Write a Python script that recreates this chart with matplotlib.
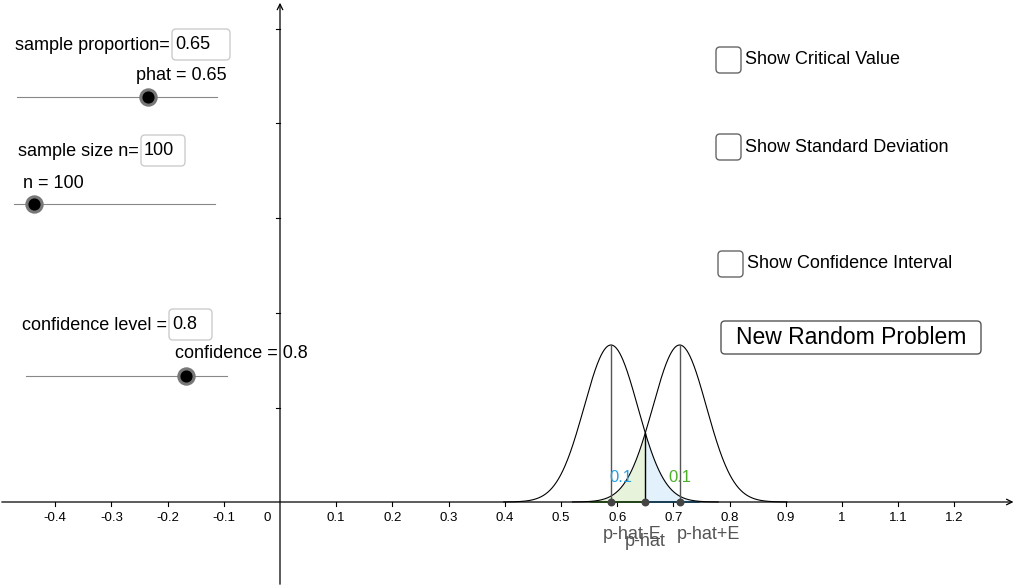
import numpy as np
import matplotlib.pyplot as plt
from matplotlib.patches import FancyBboxPatch

plt.rcParams["font.family"] = "Liberation Sans"

# values
phat = 0.65
n = 100
confidence = 0.8
z_crit = 1.2816
peak_px = 157  # drawn height of curves
x_ticks = [-0.4, -0.3, -0.2, -0.1, 0.1, 0.2, 0.3, 0.4, 0.5, 0.6, 0.7, 0.8, 0.9, 1, 1.1, 1.2]
y_tick_px = [94, 189, 284, 379, 473]

sd = np.sqrt(phat * (1 - phat) / n)
E = z_crit * sd
lo, hi = phat - E, phat + E

W, H = 1022, 587
fig = plt.figure(figsize=(W / 100, H / 100), dpi=100)
ax = fig.add_axes([0, 0, 1, 1])
x0px, y0px, ppu = 280, 502, 562
ax.set_xlim(-x0px / ppu, (W - x0px) / ppu)
ax.set_ylim(-(H - y0px), y0px)
ax.axis("off")

def curve(x, mu):
    return peak_px * np.exp(-(x - mu) ** 2 / (2 * sd ** 2))

# axes
ax.annotate("", xy=(1.31, 0), xytext=(-0.5, 0),
            arrowprops=dict(arrowstyle="->", color="black", lw=0.9))
ax.annotate("", xy=(0, y0px), xytext=(0, -(H - y0px)),
            arrowprops=dict(arrowstyle="->", color="black", lw=0.9))
for t in x_ticks:
    ax.plot([t, t], [0, -4], color="black", lw=0.8)
    ax.text(t, -10, f"{t:g}", ha="center", va="top", fontsize=9.5)
ax.text(-0.022, -10, "0", ha="center", va="top", fontsize=9.5)
for yt in y_tick_px:
    ax.plot([0, -0.007], [yt, yt], color="black", lw=0.8)

# shaded tails
xl = np.linspace(hi - 4 * sd, phat, 300)
ax.fill_between(xl, curve(xl, hi), color="#e8f3dc", lw=0)
ax.plot(np.linspace(hi - 3.3 * sd, phat, 50), np.zeros(50), color="#4caf2a", lw=1.2)
xr = np.linspace(phat, lo + 4 * sd, 300)
ax.fill_between(xr, curve(xr, lo), color="#e2f1fb", lw=0)
ax.plot(np.linspace(phat, lo + 3.3 * sd, 50), np.zeros(50), color="#2a9fe0", lw=1.2)

for mu in (lo, hi):
    xs = np.linspace(mu - 4 * sd, mu + 4 * sd, 400)
    ax.plot(xs, curve(xs, mu), color="black", lw=0.8)
ax.plot([lo, lo], [0, peak_px], color="#555555", lw=1)
ax.plot([hi, hi], [0, peak_px], color="#555555", lw=1)
ax.plot([phat, phat], [0, curve(phat, lo)], color="black", lw=1)
ax.scatter([lo, phat, hi], [0, 0, 0], s=22, color="#444444", zorder=5)
ax.text(lo + 0.018, 20, "0.1", color="#2a9fe0", fontsize=12, ha="center")
ax.text(hi, 20, "0.1", color="#4caf2a", fontsize=12, ha="center")
ax.text(0.626, -24, "p-hat-E", color="#555555", fontsize=13, ha="center", va="top")
ax.text(phat, -31, "p-hat", color="#555555", fontsize=13, ha="center", va="top")
ax.text(0.763, -24, "p-hat+E", color="#555555", fontsize=13, ha="center", va="top")

# widget overlay in pixel coords
ov = fig.add_axes([0, 0, 1, 1])
ov.set_xlim(0, W)
ov.set_ylim(H, 0)
ov.axis("off")

def box(x, y, w, h, txt, fs=13, edge="#cccccc", lw=1):
    ov.add_patch(FancyBboxPatch((x, y), w, h, boxstyle="round,pad=0,rounding_size=4",
                                fc="white", ec=edge, lw=lw))
    if txt:
        ov.text(x + 3, y + h / 2, txt, fontsize=fs, va="center")

def slider(x1, x2, y, pos):
    ov.plot([x1, x2], [y, y], color="#888888", lw=0.8)
    ov.scatter([pos], [y], s=150, color="#777777", zorder=5)
    ov.scatter([pos], [y], s=60, color="black", zorder=6)

fs = 13
ov.text(15, 45, "sample proportion=", fontsize=fs, va="center")
box(172, 29, 58, 31, "0.65")
ov.text(136, 75, "phat = 0.65", fontsize=fs, va="center")
slider(17, 217, 97, 148)

ov.text(18, 151, "sample size n=", fontsize=fs, va="center")
box(141, 135, 44, 31, "100")
ov.text(23, 183, "n = 100", fontsize=fs, va="center")
slider(14, 215, 204, 34)

ov.text(22, 325, "confidence level =", fontsize=fs, va="center")
box(169, 309, 43, 31, "0.8")
ov.text(175, 354, "confidence = 0.8", fontsize=fs, va="center")
slider(26, 227, 376, 186)

for y, label in [(60, "Show Critical Value"), (147, "Show Standard Deviation"),
                 (264, "Show Confidence Interval")]:
    xb = 716 if y != 264 else 718
    box(xb, y - 13, 25, 26, None, edge="#666666")
    ov.text(xb + 29, y, label, fontsize=fs, va="center")

box(721, 321, 260, 33, None, edge="#555555")
ov.text(851, 337, "New Random Problem", fontsize=16.5, ha="center", va="center")

fig.savefig("out.png", dpi=100)
